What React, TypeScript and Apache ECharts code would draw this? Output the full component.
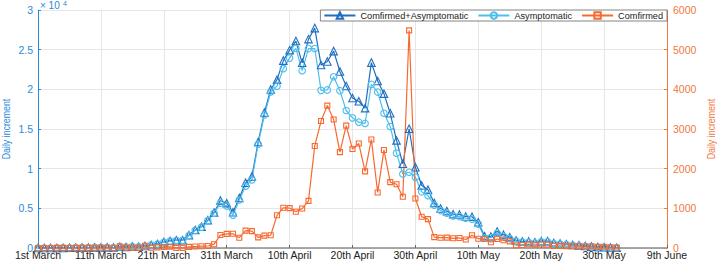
import { useEffect, useRef } from "react";
import * as echarts from "echarts";

const tickLabels = [
  "1st March", "11th March", "21th March", "31th March", "10th April",
  "20th April", "30th April", "10th May", "20th May", "30th May", "9th June",
];

const seriesNames = ["Comfirmed+Asymptomatic", "Asymptomatic", "Comfirmed"];
const axisTitle = "Daily increment";

const combined = [
  2, 2, 2, 16, 19, 28, 48, 54, 65, 80,
  75, 83, 65, 169, 139, 202, 158, 260, 374, 509,
  758, 896, 981, 983, 1609, 2269, 2676, 3500, 4477, 5982,
  5653, 4502, 6311, 8226, 9006, 13354, 17077, 19982, 21222, 23624,
  24943, 26087, 23342, 26330, 27719, 23072, 23513, 24820, 22248, 20416,
  18901, 18495, 17629, 23370, 21058, 19455, 16980, 13562, 10622, 15032,
  10181, 7872, 7333, 5669, 4982, 4651, 4269, 4214, 3975, 3947,
  3248, 1487, 1449, 2096, 1681, 1369, 938, 823, 823, 719,
  858, 868, 622, 558, 470, 387, 335, 258, 176, 122,
  98, 60, 30,
];

const asymptomatic = [
  1, 1, 2, 14, 16, 28, 45, 51, 62, 76,
  64, 78, 64, 128, 130, 197, 150, 203, 366, 492,
  734, 865, 977, 979, 1580, 2231, 2631, 3450, 4381, 5656,
  5298, 4144, 6051, 7788, 8581, 13086, 16766, 19660, 20398, 22609,
  23937, 25173, 22348, 25141, 25146, 19872, 19923, 21582, 19831, 17332,
  16407, 15861, 15698, 20634, 19657, 16983, 15319, 11956, 9330, 9545,
  8932, 7084, 6606, 5395, 4722, 4390, 4024, 3961, 3760, 3625,
  3014, 1259, 1305, 1869, 1487, 1203, 869, 746, 727, 637,
  770, 784, 570, 503, 422, 343, 290, 219, 131, 93,
  67, 40, 20,
];

const confirmed = [
  1, 1, 0, 2, 3, 0, 3, 3, 3, 4,
  11, 5, 1, 41, 9, 5, 8, 57, 8, 17,
  24, 31, 4, 4, 29, 38, 45, 50, 96, 326,
  355, 358, 260, 438, 425, 268, 311, 322, 824, 1015,
  1006, 914, 994, 1189, 2573, 3200, 3590, 3238, 2417, 3084,
  2494, 2634, 1931, 2736, 1401, 2472, 1661, 1606, 1292, 5487,
  1249, 788, 727, 274, 260, 261, 245, 253, 215, 322,
  234, 228, 144, 227, 194, 166, 69, 77, 96, 82,
  88, 84, 52, 55, 48, 44, 45, 39, 45, 29,
  31, 20, 10,
];

const BLUE_DARK = "#1f6fc0";
const BLUE_LIGHT = "#4dbeee";
const ORANGE = "#f8692f";
const AXIS_BLUE = "#2b8ad8";
const AXIS_ORANGE = "#f07a3e";
const FONT = "'Liberation Sans', Arial, Helvetica, sans-serif";

export default function App() {
  const ref = useRef<HTMLDivElement>(null);
  useEffect(() => {
    document.body.style.margin = "0";
    const chart = echarts.init(ref.current!, null, { renderer: "svg" });
    const pairs = (arr: number[]) => arr.map((v, i) => [i, v]);
    chart.setOption({
      animation: false,
      backgroundColor: "#ffffff",
      grid: {
        left: 38,
        right: 52,
        top: 10,
        bottom: 13,
        containLabel: false,
        outerBoundsMode: "none",
      },
      legend: {
        data: seriesNames,
        top: 10,
        right: 52,
        orient: "horizontal",
        itemWidth: 31,
        itemHeight: 8,
        itemGap: 9,
        padding: [1, 4, 1, 3],
        borderColor: "#666",
        borderWidth: 0.8,
        borderRadius: 0,
        backgroundColor: "#ffffff",
        textStyle: { fontSize: 9.2, color: "#222", fontFamily: FONT },
      },
      graphic: [
        {
          type: "text",
          left: 40,
          top: 0.5,
          style: { text: "× 10", fill: AXIS_BLUE, fontSize: 10, fontFamily: FONT },
        },
        {
          type: "text",
          left: 63,
          top: 0,
          style: { text: "4", fill: AXIS_BLUE, fontSize: 7, fontFamily: FONT },
        },
        {
          type: "text",
          x: 6,
          y: 129,
          rotation: Math.PI / 2,
          scaleX: 0.8,
          style: {
            text: axisTitle,
            fill: AXIS_BLUE,
            fontSize: 11,
            fontFamily: FONT,
            align: "center",
            verticalAlign: "middle",
          },
        },
        {
          type: "text",
          x: 711,
          y: 129,
          rotation: Math.PI / 2,
          scaleX: 0.8,
          style: {
            text: axisTitle,
            fill: AXIS_ORANGE,
            fontSize: 11,
            fontFamily: FONT,
            align: "center",
            verticalAlign: "middle",
          },
        },
      ],
      xAxis: {
        type: "value",
        min: 0,
        max: 100,
        interval: 10,
        axisLine: { show: true, lineStyle: { color: "#8c8c8c", width: 1.6 } },
        axisTick: { show: true, inside: true, length: 3, lineStyle: { color: "#666" } },
        axisLabel: {
          formatter: (v: number) => tickLabels[Math.round(v / 10)] ?? "",
          color: "#222",
          fontSize: 10.5,
          lineHeight: 10,
          margin: 2,
          fontFamily: FONT,
        },
        splitLine: { show: true, lineStyle: { color: "#e6e6e6" } },
      },
      yAxis: [
        {
          type: "value",
          position: "left",
          min: 0,
          max: 30000,
          interval: 5000,
          axisLine: { show: true, lineStyle: { color: AXIS_BLUE } },
          axisTick: { show: true, inside: true, length: 3 },
          axisLabel: {
            formatter: (v: number) => String(v / 10000),
            color: AXIS_BLUE,
            fontSize: 10.5,
            lineHeight: 9,
            margin: 5,
            fontFamily: FONT,
          },
          splitLine: { show: true, lineStyle: { color: "#e6e6e6" } },
        },
        {
          type: "value",
          position: "right",
          min: 0,
          max: 6000,
          interval: 1000,
          axisLine: { show: true, lineStyle: { color: AXIS_ORANGE } },
          axisTick: { show: true, inside: true, length: 3 },
          axisLabel: {
            formatter: (v: number) => String(v),
            color: AXIS_ORANGE,
            fontSize: 10.5,
            lineHeight: 9,
            margin: 6,
            fontFamily: FONT,
          },
          splitLine: { show: false },
        },
      ],
      series: [
        {
          name: seriesNames[0],
          type: "line",
          yAxisIndex: 0,
          data: pairs(combined),
          symbol: "triangle",
          symbolSize: 7.5,
          showAllSymbol: true,
          lineStyle: { color: BLUE_DARK, width: 1.2 },
          itemStyle: { color: "rgba(255,255,255,0)", borderColor: BLUE_DARK, borderWidth: 1.1 },
          emphasis: { disabled: true },
        },
        {
          name: seriesNames[1],
          type: "line",
          yAxisIndex: 0,
          data: pairs(asymptomatic),
          symbol: "circle",
          symbolSize: 6.5,
          showAllSymbol: true,
          lineStyle: { color: BLUE_LIGHT, width: 1.2 },
          itemStyle: { color: "rgba(255,255,255,0)", borderColor: BLUE_LIGHT, borderWidth: 1.1 },
          emphasis: { disabled: true },
        },
        {
          name: seriesNames[2],
          type: "line",
          yAxisIndex: 1,
          data: pairs(confirmed),
          symbol: "rect",
          symbolSize: 5,
          showAllSymbol: true,
          lineStyle: { color: ORANGE, width: 1.2 },
          itemStyle: { color: "rgba(255,255,255,0)", borderColor: ORANGE, borderWidth: 1.1 },
          emphasis: { disabled: true },
        },
      ],
    });
    return () => chart.dispose();
  }, []);
  return <div ref={ref} style={{ width: 719, height: 261 }} />;
}
